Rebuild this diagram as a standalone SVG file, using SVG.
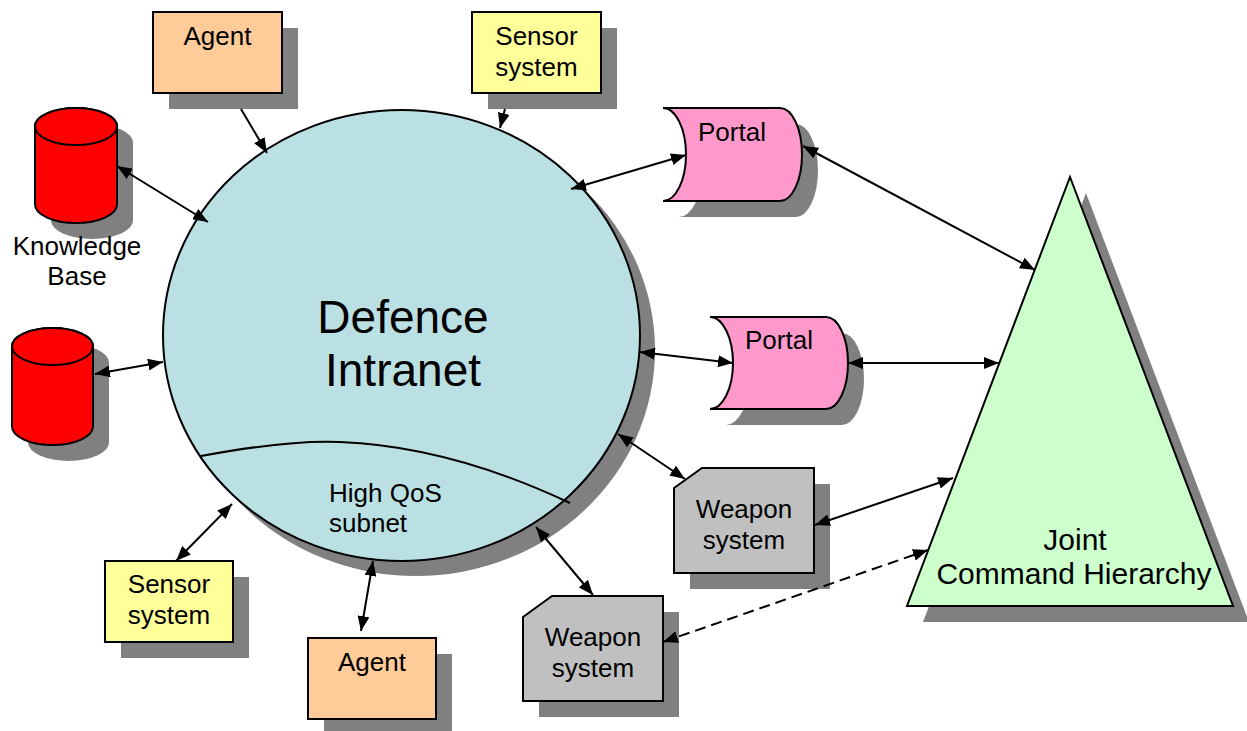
<svg xmlns="http://www.w3.org/2000/svg" width="1247" height="731" viewBox="0 0 1247 731">
  <style>
    .shadow { fill: #808080; stroke: none; }
    .edge { stroke: #000; stroke-width: 2; fill: none; }
    .node { stroke: #000; stroke-width: 2; }
    .agent { fill: #FFCC99; }
    .sensor { fill: #FFFF99; }
    .portal { fill: #FF99CC; }
    .weapon { fill: #C0C0C0; }
    .kb { fill: #FF0000; }
    .net { fill: #BBE0E3; }
    .cmd { fill: #CCFFCC; }
    text { font-family: "Liberation Sans", Arial, sans-serif; fill: #000; text-anchor: middle; }
    .lbl { font-size: 26px; }
    .big { font-size: 46px; }
    .tri { font-size: 30px; }
    .conn { stroke: #000; stroke-width: 2; fill: none; marker-start: url(#arrow); marker-end: url(#arrow); }
    .one { marker-start: none; }
    .dash { stroke-dasharray: 11 6; }
  </style>
  <defs>
    <marker id="arrow" markerUnits="userSpaceOnUse" markerWidth="16" markerHeight="12" refX="15" refY="6" orient="auto-start-reverse" viewBox="0 0 16 12">
      <path d="M0,0 L15,6 L0,12 Z" fill="#000"/>
    </marker>
  </defs>
  <rect width="1247" height="731" fill="#fff"/>

  <!-- Defence Intranet network -->
  <g id="intranet">
    <ellipse class="shadow" cx="416" cy="350" rx="239" ry="226"/>
    <ellipse class="node net" cx="401.5" cy="335.5" rx="238.5" ry="225.5"/>
    <path class="edge" d="M201,456 C255,446 300,440 340,442 C420,445 500,470 570,503"/>
    <text class="big" x="403" y="333">Defence</text>
    <text class="big" x="403" y="386">Intranet</text>
    <text class="lbl" x="329" y="502" style="text-anchor:start">High QoS</text>
    <text class="lbl" x="329" y="532" style="text-anchor:start">subnet</text>
  </g>

  <g id="agent-top">
    <rect class="shadow" x="169" y="28" width="129" height="81"/>
    <rect class="node agent" x="153" y="12" width="129" height="81"/>
    <text class="lbl" x="217.5" y="45">Agent</text>
  </g>

  <g id="sensor-top">
    <rect class="shadow" x="488" y="28" width="129" height="81"/>
    <rect class="node sensor" x="472" y="12" width="129" height="81"/>
    <text class="lbl" x="536.5" y="45">Sensor</text>
    <text class="lbl" x="536.5" y="76">system</text>
  </g>

  <g id="knowledge-base">
    <path class="shadow" d="M51,142.5 A41,18.5 0 0 1 133,142.5 V220.5 A41,18.5 0 0 1 51,220.5 Z"/>
    <path class="node kb" d="M35,126.5 A41,18.5 0 0 1 117,126.5 V204.5 A41,18.5 0 0 1 35,204.5 Z"/>
    <ellipse class="node kb" cx="76" cy="126.5" rx="41" ry="18.5"/>
    <text class="lbl" x="77" y="255">Knowledge</text>
    <text class="lbl" x="77" y="285">Base</text>
  </g>

  <g id="store">
    <path class="shadow" d="M28,362.5 A40.5,18.5 0 0 1 109,362.5 V442.5 A40.5,18.5 0 0 1 28,442.5 Z"/>
    <path class="node kb" d="M12,346.5 A40.5,18.5 0 0 1 93,346.5 V426.5 A40.5,18.5 0 0 1 12,426.5 Z"/>
    <ellipse class="node kb" cx="52.5" cy="346.5" rx="40.5" ry="18.5"/>
  </g>

  <g id="portal-1">
    <path class="shadow" d="M679,124 H796 A22,46.5 0 0 1 796,217 H679 A23,46.5 0 0 0 679,124 Z"/>
    <path class="node portal" d="M663,108 H780 A22,46.5 0 0 1 780,201 H663 A23,46.5 0 0 0 663,108 Z"/>
    <text class="lbl" x="732" y="141">Portal</text>
  </g>

  <g id="portal-2">
    <path class="shadow" d="M726,333 H842 A22,46 0 0 1 842,425 H726 A23,46 0 0 0 726,333 Z"/>
    <path class="node portal" d="M710,317 H826 A22,46 0 0 1 826,409 H710 A23,46 0 0 0 710,317 Z"/>
    <text class="lbl" x="779" y="349">Portal</text>
  </g>

  <g id="weapon-1">
    <path class="shadow" d="M690,504 L718,484 H830 V589 H690 Z"/>
    <path class="node weapon" d="M674,488 L702,468 H814 V573 H674 Z"/>
    <text class="lbl" x="744" y="518">Weapon</text>
    <text class="lbl" x="744" y="549">system</text>
  </g>

  <g id="weapon-2">
    <path class="shadow" d="M539,633 L568,612 H679 V717 H539 Z"/>
    <path class="node weapon" d="M523,617 L552,596 H663 V701 H523 Z"/>
    <text class="lbl" x="593" y="646">Weapon</text>
    <text class="lbl" x="593" y="677">system</text>
  </g>

  <g id="sensor-bottom">
    <rect class="shadow" x="121" y="577" width="128" height="81"/>
    <rect class="node sensor" x="105" y="561" width="128" height="81"/>
    <text class="lbl" x="169" y="593">Sensor</text>
    <text class="lbl" x="169" y="624">system</text>
  </g>

  <g id="agent-bottom">
    <rect class="shadow" x="324" y="654" width="128" height="81"/>
    <rect class="node agent" x="308" y="638" width="128" height="81"/>
    <text class="lbl" x="372" y="671">Agent</text>
  </g>

  <g id="joint-command">
    <path class="shadow" d="M1086,193 L1249,622 L923,622 Z"/>
    <path class="node cmd" d="M1070,177 L1233,606 L907,606 Z"/>
    <text class="tri" x="1075" y="550">Joint</text>
    <text class="tri" x="1074" y="584">Command Hierarchy</text>
  </g>

  <!-- links -->
  <g id="connectors">
    <line class="conn one" x1="241" y1="109" x2="267" y2="153"/>
    <line class="conn" x1="117" y1="166" x2="208" y2="222"/>
    <line class="conn one" x1="505" y1="109" x2="500" y2="128"/>
    <line class="conn" x1="571" y1="189" x2="686" y2="155"/>
    <line class="conn" x1="803" y1="146" x2="1035" y2="270"/>
    <line class="conn" x1="640" y1="352" x2="733" y2="363"/>
    <line class="conn" x1="848" y1="363" x2="999" y2="363"/>
    <line class="conn" x1="618" y1="434" x2="685" y2="479"/>
    <line class="conn" x1="815" y1="525" x2="953" y2="478"/>
    <line class="conn" x1="536" y1="527" x2="593" y2="595"/>
    <line class="conn dash" x1="663" y1="642" x2="928" y2="550"/>
    <line class="conn" x1="176" y1="561" x2="232" y2="504"/>
    <line class="conn" x1="361" y1="631" x2="373" y2="561"/>
    <line class="conn" x1="95" y1="374" x2="163" y2="362"/>
  </g>
</svg>
